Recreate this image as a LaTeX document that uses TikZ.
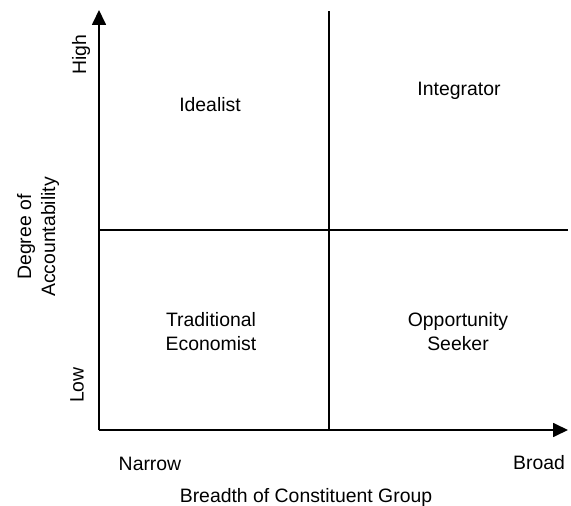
\documentclass[tikz,border=0pt]{standalone}
\usepackage{fontspec}
\setmainfont{Liberation Sans}
\usetikzlibrary{arrows.meta}
\begin{document}
\begin{tikzpicture}[x=0.5pt, y=-0.5pt,
		axis/.style={line width=0.85pt, -{Triangle[length=7.5pt, width=7pt]}},
		divider/.style={line width=0.85pt},
		quadlabel/.style={font=\fontsize{9.7}{12}\selectfont, align=center, inner sep=0pt}]
		\useasboundingbox (0, 0) rectangle (571, 506);
		\coordinate (origin) at (99, 430);
		\coordinate (ytop) at (99, 10);
		\coordinate (xend) at (568, 430);
		\coordinate (vtop) at (329, 11);
		\coordinate (vbot) at (329, 430);
		\coordinate (hleft) at (99, 230);
		\coordinate (hright) at (568, 230);
		\draw[divider] (vbot) -- (vtop);
		\draw[divider] (hleft) -- (hright);
		\draw[axis] (origin) -- (ytop);
		\draw[axis] (origin) -- (xend);
		\node[quadlabel] (idealist) at (210, 105) {Idealist};
		\node[quadlabel] (integrator) at (459, 91) {Integrator};
		\node[quadlabel] (economist) at (211, 332) {Traditional\\Economist};
		\node[quadlabel] (seeker) at (458, 332) {Opportunity\\Seeker};
		\node[quadlabel] (narrow) at (150, 464) {Narrow};
		\node[quadlabel] (broad) at (539, 463) {Broad};
		\node[quadlabel] (xtitle) at (306, 497) {Breadth of Constituent Group};
		\node[quadlabel, rotate=90] (high) at (81, 55) {High};
		\node[quadlabel, rotate=90] (low) at (77, 385) {Low};
		\node[quadlabel, rotate=90] (ytitle) at (38, 237) {Degree of\\Accountability};
	\end{tikzpicture}
\end{document}
